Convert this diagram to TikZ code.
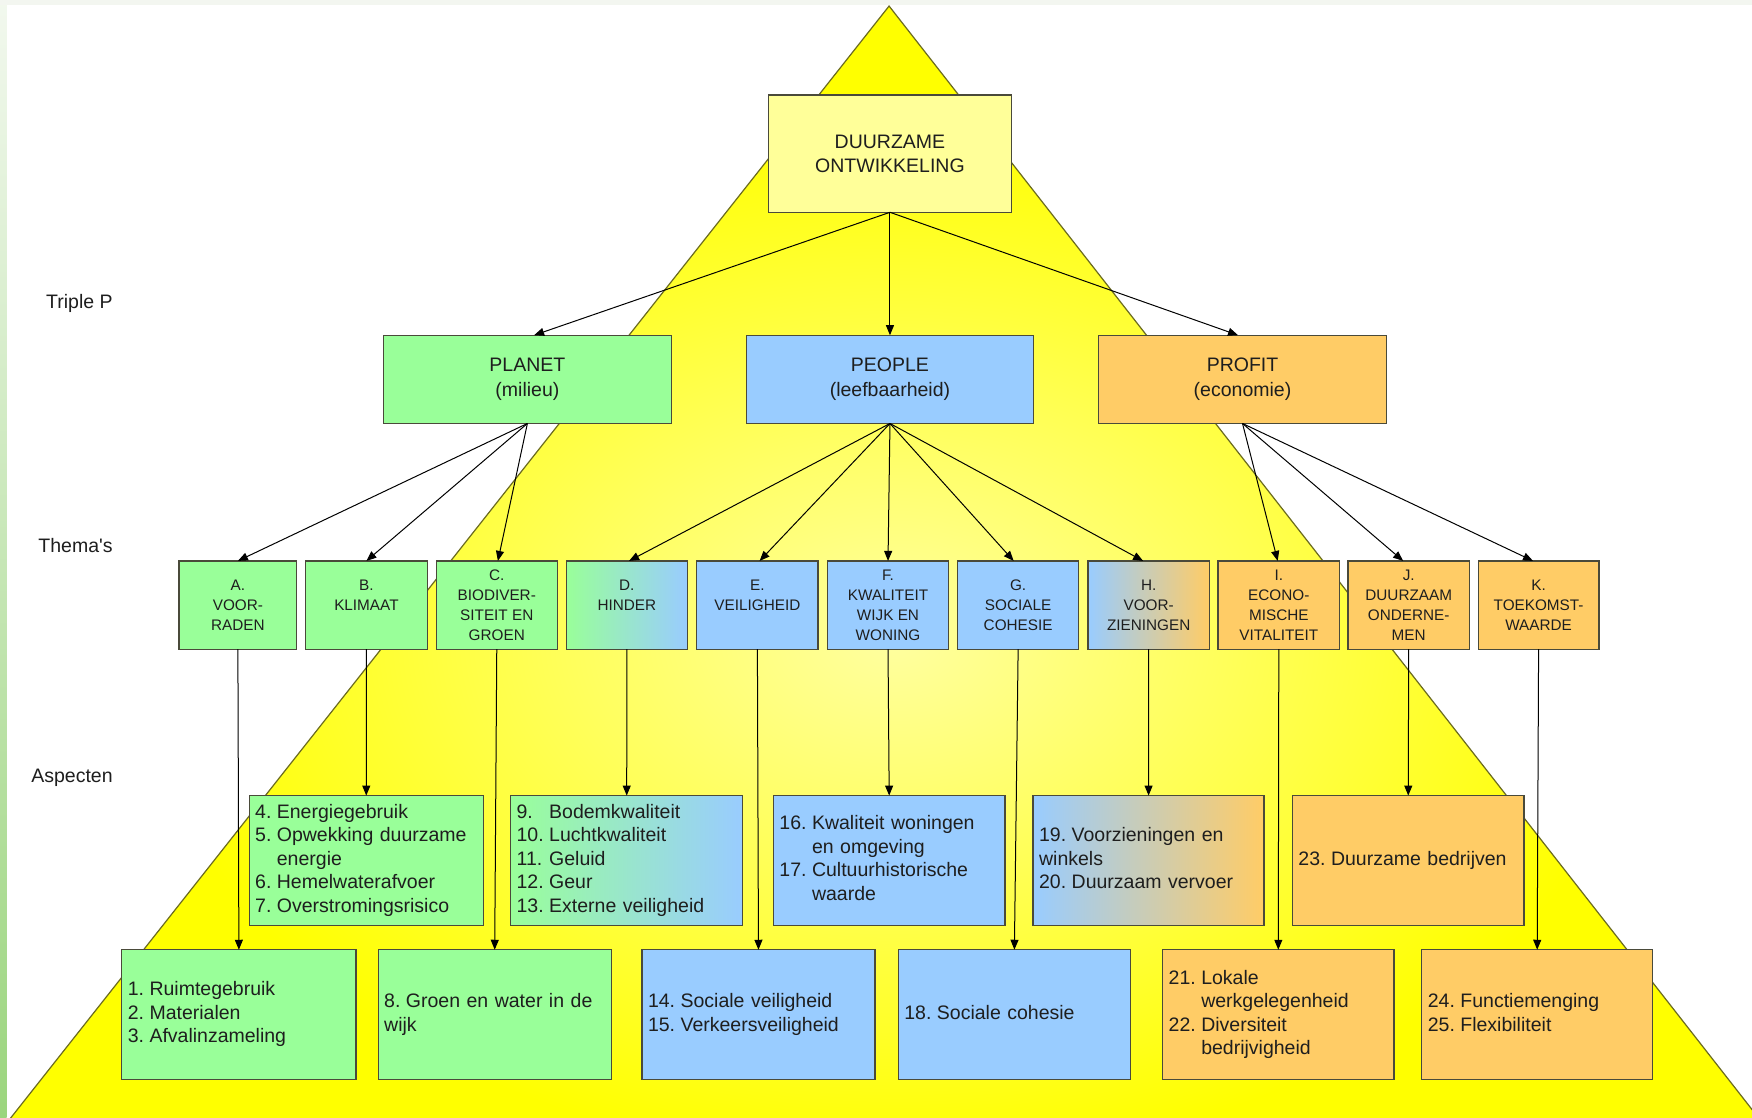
\documentclass[tikz,border=0pt]{standalone}
\usepackage{fontspec}
\setmainfont{Liberation Sans}
\newfontfamily\lblfont{Liberation Sans}[Ligatures=TeXOff]
\usetikzlibrary{arrows.meta,calc}
\definecolor{gr}{HTML}{99FF99}
\definecolor{bl}{HTML}{99CCFF}
\definecolor{orn}{HTML}{FFCC66}
\definecolor{ly}{HTML}{FFFF99}
\definecolor{bd}{HTML}{4A4A3A}
\definecolor{tri}{HTML}{6B6B20}
\definecolor{txt}{HTML}{1E1E1E}
\definecolor{triC}{HTML}{FFFFA0}
\definecolor{ylw}{HTML}{FFFF00}
\definecolor{stripT}{HTML}{F2F8EE}
\definecolor{stripB}{HTML}{9BD57E}
\definecolor{band}{HTML}{F3F6F0}
\newcommand\bx[7]{%
  \pgfmathsetmacro\bxw{(#4-#2)*1.1173}%
  \pgfmathsetmacro\bxh{(#5-#3)*1.1173}%
  \node[#6, minimum width=\bxw pt, minimum height=\bxh pt] (#1) at ({(#2+#4)/2},{(#3+#5)/2}) {#7};}
\newcommand\bxl[7]{%
  \pgfmathsetmacro\bxw{(#4-#2)*1.1173}%
  \pgfmathsetmacro\bxh{(#5-#3)*1.1173}%
  \pgfmathsetmacro\bxt{(#4-#2)*1.1173-12}%
  \node[#6, text width=\bxt pt, inner xsep=6pt, align=left, minimum height=\bxh pt] (#1) at ({(#2+#4)/2},{(#3+#5)/2}) {\noindent#7};}
\newenvironment{lst}{\begin{tabular}{@{}l@{\hspace{.28em}}l@{}}}{\end{tabular}}
\begin{document}
\begin{tikzpicture}[x=1.1173pt,y=-1.1173pt,
  box/.style={draw=bd, line width=1.3pt, text=txt, inner sep=0pt, outer sep=0pt},
  thema/.style={box, font=\fontsize{15.3}{20}\selectfont, align=center},
  ppp/.style={box, font=\fontsize{19.5}{24.5}\selectfont, align=center},
  asp/.style={box, font=\fontsize{19.5}{23.5}\selectfont},
  arr/.style={-{Triangle[length=10pt,width=8pt]}, line width=1pt, draw=black},
  lbl/.style={font=\fontsize{19.5}{24}\lblfont, anchor=east, text=txt, inner sep=0pt}]
\useasboundingbox (0,0) rectangle (1568,1000);
\fill[white] (0,0) rectangle (1568,1000);
\begin{scope}
  \clip (0,0) rectangle (1568,1000);
  \begin{scope}
    \clip (795.7,5.4) -- (1581.3,1010) -- (2.1,1010) -- cycle;
    \fill[ylw] (0,0) rectangle (1600,1010);
    \shade[inner color=triC, outer color=ylw] (800,570) ellipse [x radius=680, y radius=470];
  \end{scope}
  \draw[tri, line width=1.2pt] (795.7,5.4) -- (1581.3,1010) -- (2.1,1010) -- cycle;
\end{scope}
\shade[top color=stripT, bottom color=stripB] (0,0) rectangle (6,1000);
\fill[band] (0,0) rectangle (1568,4.2);

% side labels
\node[lbl] (ltp) at (101,272) {Triple P};
\node[lbl] (lth) at (101,488) {Thema's};
\node[lbl] (las) at (101,696) {Aspecten};

% top
\bx{top}{688}{85}{905}{190}{ppp, fill=ly}{DUURZAME\\ONTWIKKELING}
% triple P
\bx{planet}{343}{300}{601}{379}{ppp, fill=gr}{PLANET\\(milieu)}
\bx{people}{668}{300}{925}{379}{ppp, fill=bl}{PEOPLE\\(leefbaarheid)}
\bx{profit}{983}{300}{1241}{379}{ppp, fill=orn}{PROFIT\\(economie)}

% themes
\bx{A}{160.3}{502}{265.5}{581}{thema, fill=gr}{A.\\VOOR-\\RADEN}
\bx{B}{273.3}{502}{382.6}{581}{thema, fill=gr}{B.\\KLIMAAT\\~}
\bx{C}{390.5}{502}{498.7}{581}{thema, fill=gr}{C.\\BIODIVER-\\SITEIT EN\\GROEN}
\bx{D}{507}{502}{615}{581}{thema, left color=gr, right color=bl}{D.\\HINDER\\~}
\bx{E}{623.6}{502}{732.1}{581}{thema, fill=bl}{E.\\VEILIGHEID\\~}
\bx{F}{740.8}{502}{848.7}{581}{thema, fill=bl}{F.\\KWALITEIT\\WIJK EN\\WONING}
\bx{G}{857}{502}{965.4}{581}{thema, fill=bl}{G.\\SOCIALE\\COHESIE}
\bx{H}{973.8}{502}{1082.3}{581}{thema, left color=bl, right color=orn}{H.\\VOOR-\\ZIENINGEN}
\bx{I}{1090.2}{502}{1198.8}{581}{thema, fill=orn}{I.\\ECONO-\\MISCHE\\VITALITEIT}
\bx{J}{1206.5}{502}{1315}{581}{thema, fill=orn}{J.\\DUURZAAM\\ONDERNE-\\MEN}
\bx{K}{1323}{502}{1431}{581}{thema, fill=orn}{K.\\TOEKOMST-\\WAARDE}

% aspects row 1
\bxl{s4}{223}{712}{432.6}{828}{asp, fill=gr}{\begin{lst}4. & Energiegebruik\\5. & Opwekking duurzame\\ & energie\\6. & Hemelwaterafvoer\\7. & Overstromingsrisico\end{lst}}
\bxl{s9}{457}{712}{664.8}{828}{asp, left color=gr, right color=bl}{\begin{lst}9. & Bodemkwaliteit\\10. & Luchtkwaliteit\\11. & Geluid\\12. & Geur\\13. & Externe veiligheid\end{lst}}
\bxl{s16}{692.2}{712}{899.4}{828}{asp, fill=bl}{\begin{lst}16. & Kwaliteit woningen\\ & en omgeving\\17. & Cultuurhistorische\\ & waarde\end{lst}}
\bxl{s19}{924.6}{712}{1131.3}{828}{asp, left color=bl, right color=orn}{\begin{lst}19. & Voorzieningen en\\\multicolumn{2}{@{}l@{}}{winkels}\\20. & Duurzaam vervoer\end{lst}}
\bxl{s23}{1156.7}{712}{1364}{828}{asp, fill=orn}{\begin{lst}23. & Duurzame bedrijven\end{lst}}

% aspects row 2
\bxl{s1}{109}{850}{318.6}{966}{asp, fill=gr}{\begin{lst}1. & Ruimtegebruik\\2. & Materialen\\3. & Afvalinzameling\end{lst}}
\bxl{s8}{338.5}{850}{547}{966}{asp, fill=gr}{\begin{lst}8. & Groen en water in de\\\multicolumn{2}{@{}l@{}}{wijk}\end{lst}}
\bxl{s14}{574.6}{850}{783}{966}{asp, fill=bl}{\begin{lst}14. & Sociale veiligheid\\15. & Verkeersveiligheid\end{lst}}
\bxl{s18}{804}{850}{1011.7}{966}{asp, fill=bl}{\begin{lst}18. & Sociale cohesie\end{lst}}
\bxl{s21}{1040.6}{850}{1247.5}{966}{asp, fill=orn}{\begin{lst}21. & Lokale\\ & werkgelegenheid\\22. & Diversiteit\\ & bedrijvigheid\end{lst}}
\bxl{s24}{1272.5}{850}{1479}{966}{asp, fill=orn}{\begin{lst}24. & Functiemenging\\25. & Flexibiliteit\end{lst}}

% arrows level 1
\draw[arr] (top.south) -- ($(planet.north)+(6,0)$);
\draw[arr] (top.south) -- (people.north);
\draw[arr] (top.south) -- ($(profit.north)+(-4,0)$);
% arrows level 2
\draw[arr] (planet.south) -- (A.north);
\draw[arr] (planet.south) -- (B.north);
\draw[arr] (planet.south) -- ($(C.north)+(1,0)$);
\draw[arr] (people.south) -- ($(D.north)+(2,0)$);
\draw[arr] (people.south) -- ($(E.north)+(2,0)$);
\draw[arr] (people.south) -- (F.north);
\draw[arr] (people.south) -- ($(G.north)+(-4,0)$);
\draw[arr] (people.south) -- ($(H.north)+(-5,0)$);
\draw[arr] (profit.south) -- ($(I.north)+(-1,0)$);
\draw[arr] (profit.south) -- ($(J.north)+(-5,0)$);
\draw[arr] (profit.south) -- ($(K.north)+(-5,0)$);
% arrows level 3
\draw[arr] (A.south) -- (s1.north);
\draw[arr] (B.south) -- (s4.north);
\draw[arr] (C.south) -- (s8.north);
\draw[arr] (D.south) -- (s9.north);
\draw[arr] (E.south) -- (s14.north);
\draw[arr] (F.south) -- (s16.north);
\draw[arr] (G.south) -- (s18.north);
\draw[arr] (H.south) -- (s19.north);
\draw[arr] (I.south) -- (s21.north);
\draw[arr] (J.south) -- (s23.north);
\draw[arr] (K.south) -- (s24.north);
\end{tikzpicture}
\end{document}
